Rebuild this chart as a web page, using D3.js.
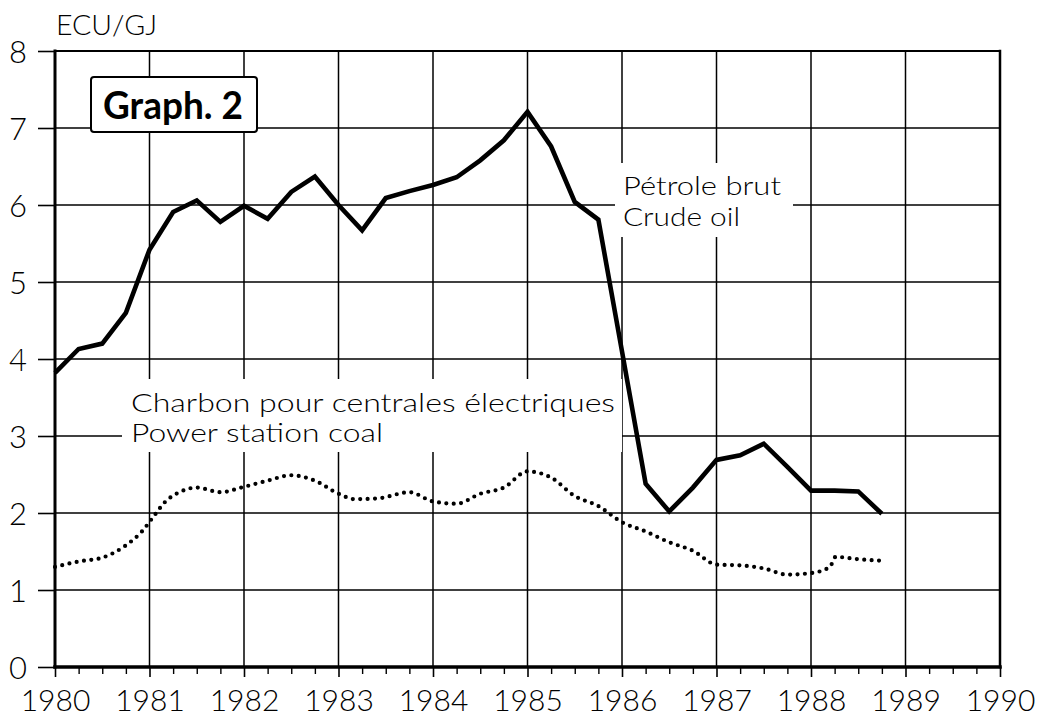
<!DOCTYPE html>
<html>
<head>
<meta charset="utf-8">
<script src="https://cdn.jsdelivr.net/npm/d3@7"></script>
<style>
  html, body { margin: 0; padding: 0; background: #fff; }
  svg { display: block; }
  text { font-family: Lato, "Noto Sans", sans-serif; fill: #000; }
</style>
</head>
<body>
<svg id="chart" width="1044" height="718"></svg>
<script>
// ---- data ----
const xTickYears = [1980, 1981, 1982, 1983, 1984, 1985, 1986, 1987, 1988, 1989, 1990];
const yTickValues = [0, 1, 2, 3, 4, 5, 6, 7, 8];

// Crude oil (quarterly)
const oilTime = [1980.00, 1980.25, 1980.50, 1980.75, 1981.00, 1981.25, 1981.50, 1981.75,
                 1982.00, 1982.25, 1982.50, 1982.75, 1983.00, 1983.25, 1983.50, 1983.75,
                 1984.00, 1984.25, 1984.50, 1984.75, 1985.00, 1985.25, 1985.50, 1985.75,
                 1986.00, 1986.25, 1986.50, 1986.75, 1987.00, 1987.25, 1987.50, 1987.75,
                 1988.00, 1988.25, 1988.50, 1988.75];
const oilValue = [3.82, 4.13, 4.20, 4.60, 5.42, 5.91, 6.06, 5.78,
                  5.99, 5.82, 6.17, 6.37, 6.00, 5.67, 6.09, 6.18,
                  6.26, 6.36, 6.58, 6.84, 7.21, 6.76, 6.04, 5.81,
                  4.10, 2.38, 2.02, 2.33, 2.69, 2.75, 2.90, 2.60,
                  2.29, 2.29, 2.28, 1.99];

// Power station coal
const coalTime = [1980.00, 1980.25, 1980.50, 1980.75, 1980.92, 1981.04, 1981.17, 1981.30,
                  1981.50, 1981.75, 1982.00, 1982.25, 1982.50, 1982.75, 1983.00, 1983.17,
                  1983.42, 1983.75, 1984.00, 1984.25, 1984.50, 1984.75, 1985.00, 1985.25,
                  1985.50, 1985.75, 1986.00, 1986.25, 1986.50, 1986.75, 1987.00, 1987.25,
                  1987.50, 1987.75, 1988.00, 1988.20, 1988.26, 1988.50, 1988.75];
const coalValue = [1.30, 1.37, 1.42, 1.58, 1.76, 1.95, 2.15, 2.26,
                   2.33, 2.27, 2.34, 2.42, 2.49, 2.42, 2.25, 2.18,
                   2.19, 2.27, 2.15, 2.12, 2.25, 2.33, 2.54, 2.46,
                   2.22, 2.09, 1.88, 1.76, 1.62, 1.51, 1.33, 1.32,
                   1.28, 1.20, 1.22, 1.30, 1.43, 1.40, 1.38];

const unitLabel = "ECU/GJ";
const graphTitle = "Graph. 2";
const oilLabel = ["Pétrole brut", "Crude oil"];
const coalLabel = ["Charbon pour centrales électriques", "Power station coal"];

// ---- layout ----
const svg = d3.select("#chart");
const x = d3.scaleLinear().domain([1980, 1990]).range([55, 1000]);
const y = d3.scaleLinear().domain([0, 8]).range([667, 51]);

const minorTicks = [];
for (let yr = 1980; yr < 1990; yr++) { [0.25, 0.5, 0.75].forEach(q => minorTicks.push(yr + q)); }

// Grid: vertical
svg.append("g").selectAll("line").data(xTickYears.slice(1, -1)).join("line")
  .attr("x1", d => x(d)).attr("x2", d => x(d))
  .attr("y1", y(0)).attr("y2", y(8))
  .attr("stroke", "#000").attr("stroke-width", 1.5);
// Grid: horizontal
svg.append("g").selectAll("line").data(yTickValues.slice(1, -1)).join("line")
  .attr("x1", x(1980)).attr("x2", x(1990))
  .attr("y1", d => y(d)).attr("y2", d => y(d))
  .attr("stroke", "#000").attr("stroke-width", 1.5);

// Y axis ticks + labels
const yAxis = svg.append("g").attr("transform", `translate(${x(1980)},0)`)
  .call(d3.axisLeft(y).tickValues(yTickValues).tickSize(17).tickPadding(11).tickFormat(d3.format("d")));
yAxis.select(".domain").remove();
yAxis.selectAll(".tick line").attr("stroke", "#000").attr("stroke-width", 1.6);
yAxis.selectAll(".tick text").attr("font-size", 31).attr("font-weight", 300)
  .attr("font-family", "Lato, sans-serif").attr("dy", "0.38em").attr("fill", "#000");

// X axis major ticks + labels
const xAxis = svg.append("g").attr("transform", `translate(0,${y(0)})`)
  .call(d3.axisBottom(x).tickValues(xTickYears).tickSize(10).tickPadding(13).tickFormat(d3.format("d")));
xAxis.select(".domain").remove();
xAxis.selectAll(".tick line").attr("stroke", "#000").attr("stroke-width", 1.6);
xAxis.selectAll(".tick text").attr("font-size", 30).attr("font-weight", 300)
  .attr("font-family", "Lato, sans-serif").attr("fill", "#000");

// X axis minor ticks
const xMinor = svg.append("g").attr("transform", `translate(0,${y(0)})`)
  .call(d3.axisBottom(x).tickValues(minorTicks).tickSize(7).tickFormat(""));
xMinor.select(".domain").remove();
xMinor.selectAll(".tick line").attr("stroke", "#000").attr("stroke-width", 1.4);

// Frame
const frame = svg.append("g").attr("stroke", "#000").attr("stroke-linecap", "square");
frame.append("line").attr("x1", x(1980)).attr("x2", x(1990)).attr("y1", y(8)).attr("y2", y(8)).attr("stroke-width", 2);
frame.append("line").attr("x1", x(1990)).attr("x2", x(1990)).attr("y1", y(8)).attr("y2", y(0)).attr("stroke-width", 2.5);
frame.append("line").attr("x1", x(1980)).attr("x2", x(1980)).attr("y1", y(8)).attr("y2", y(0)).attr("stroke-width", 3);
frame.append("line").attr("x1", x(1980)).attr("x2", x(1990)).attr("y1", y(0)).attr("y2", y(0)).attr("stroke-width", 3.5);

// Label background boxes (mask grid)
svg.append("rect").attr("x", 615).attr("y", 163).attr("width", 178).attr("height", 74).attr("fill", "#fff");
svg.append("rect").attr("x", 122).attr("y", 379).attr("width", 500).attr("height", 73).attr("fill", "#fff");

// Title box
svg.append("rect").attr("x", 91).attr("y", 77).attr("width", 166).attr("height", 55)
  .attr("rx", 3).attr("fill", "#fff").attr("stroke", "#000").attr("stroke-width", 2);
svg.append("text").attr("x", 103).attr("y", 119).attr("font-size", 38).attr("font-weight", 700)
  .attr("textLength", 140).attr("lengthAdjust", "spacingAndGlyphs").text(graphTitle);

// Unit label
svg.append("text").attr("x", 56).attr("y", 35).attr("font-size", 27).attr("font-weight", 300)
  .attr("textLength", 101).attr("lengthAdjust", "spacingAndGlyphs").text(unitLabel);

// Series labels
svg.append("text").attr("x", 623).attr("y", 195).attr("font-size", 26).attr("font-weight", 300)
  .attr("textLength", 158).attr("lengthAdjust", "spacingAndGlyphs").text(oilLabel[0]);
svg.append("text").attr("x", 623).attr("y", 226).attr("font-size", 26).attr("font-weight", 300)
  .attr("textLength", 117).attr("lengthAdjust", "spacingAndGlyphs").text(oilLabel[1]);
svg.append("text").attr("x", 131).attr("y", 412).attr("font-size", 26).attr("font-weight", 300)
  .attr("textLength", 484).attr("lengthAdjust", "spacingAndGlyphs").text(coalLabel[0]);
svg.append("text").attr("x", 131).attr("y", 442).attr("font-size", 26).attr("font-weight", 300)
  .attr("textLength", 252).attr("lengthAdjust", "spacingAndGlyphs").text(coalLabel[1]);

// Series lines
const oilData = oilTime.map((t, i) => [t, oilValue[i]]);
const coalData = coalTime.map((t, i) => [t, coalValue[i]]);

const lineOil = d3.line().x(d => x(d[0])).y(d => y(d[1]));
const lineCoal = d3.line().x(d => x(d[0])).y(d => y(d[1])).curve(d3.curveMonotoneX);

svg.append("path").datum(coalData).attr("d", lineCoal)
  .attr("fill", "none").attr("stroke", "#000").attr("stroke-width", 4.2)
  .attr("stroke-linecap", "round").attr("stroke-dasharray", "0 7.4");

svg.append("path").datum(oilData).attr("d", lineOil)
  .attr("fill", "none").attr("stroke", "#000").attr("stroke-width", 4.6)
  .attr("stroke-linejoin", "miter").attr("stroke-miterlimit", 6);
</script>
</body>
</html>
